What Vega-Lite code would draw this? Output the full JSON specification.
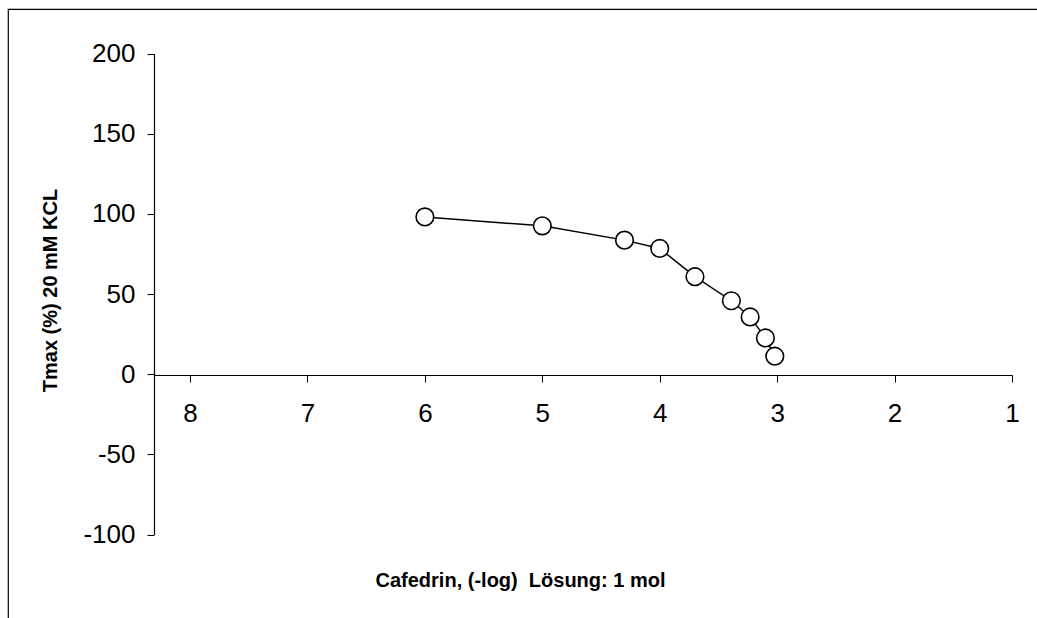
{
  "$schema": "https://vega.github.io/schema/vega-lite/v6.json",
  "autosize": {"type": "none"},
  "padding": {"left": 8, "top": 9, "right": 0, "bottom": 0},
  "width": 1040,
  "height": 620,
  "background": "white",
  "config": {
    "view": {"stroke": "black", "strokeWidth": 1.2},
    "font": "Liberation Sans",
    "axis": {
      "grid": false,
      "domainColor": "black",
      "domainWidth": 1.2,
      "tickColor": "black",
      "tickWidth": 1,
      "tickSize": 7,
      "labelColor": "black",
      "labelFontSize": 26,
      "labelFont": "Liberation Sans",
      "labelFlush": false,
      "labelOverlap": false,
      "labelBound": false,
      "labelExpr": "replace(datum.label, '\u2212', '-')",
      "titleColor": "black",
      "titleFont": "Liberation Sans",
      "titleFontWeight": "bold",
      "titleFontSize": 20
    }
  },
  "data": {
    "values": [
      {"x": 6.0, "y": 98.1},
      {"x": 5.0, "y": 92.5},
      {"x": 4.3, "y": 83.6},
      {"x": 4.0, "y": 78.4},
      {"x": 3.7, "y": 60.8},
      {"x": 3.39, "y": 45.8},
      {"x": 3.23, "y": 35.7},
      {"x": 3.1, "y": 22.6},
      {"x": 3.02, "y": 11.2}
    ]
  },
  "encoding": {
    "x": {
      "field": "x",
      "type": "quantitative",
      "scale": {"domain": [1, 8.307], "range": [1004, 146], "nice": false, "zero": false},
      "axis": {
        "orient": "bottom",
        "offset": -254,
        "values": [1, 2, 3, 4, 5, 6, 7, 8],
        "labelPadding": 18,
        "title": "Cafedrin, (-log)\u00a0 Lösung: 1 mol",
        "titleX": 512,
        "titleY": 211,
        "titleBaseline": "alphabetic",
        "titleAlign": "center"
      }
    },
    "y": {
      "field": "y",
      "type": "quantitative",
      "scale": {"domain": [-100, 200], "range": [525.5, 44.5], "nice": false, "zero": false},
      "axis": {
        "orient": "left",
        "offset": -146,
        "values": [-100, -50, 0, 50, 100, 150, 200],
        "labelPadding": 12,
        "title": "Tmax (%) 20 mM KCL",
        "titleX": -94,
        "titleY": 281,
        "titleAngle": 270,
        "titleBaseline": "bottom",
        "titleAlign": "center"
      }
    }
  },
  "layer": [
    {"mark": {"type": "line", "color": "black", "strokeWidth": 1.5}},
    {"mark": {"type": "point", "shape": "circle", "filled": true, "fill": "white", "stroke": "black", "strokeWidth": 1.6, "size": 310, "opacity": 1}}
  ]
}
